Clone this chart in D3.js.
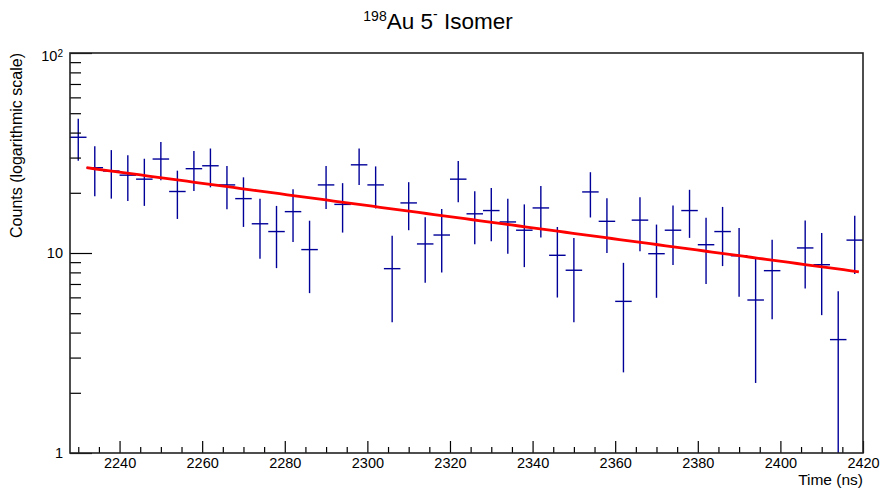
<!DOCTYPE html>
<html>
<head>
<meta charset="utf-8">
<script src="https://cdn.jsdelivr.net/npm/d3@7/dist/d3.min.js"></script>
<style>
  html, body { margin: 0; padding: 0; background: #fff; }
  svg { display: block; font-family: "Liberation Sans", Arial, Helvetica, sans-serif; }
</style>
</head>
<body>
<svg id="chart" width="880" height="488"></svg>
<script>
// Histogram binning (ns)
const binStart = 2228;
const binWidth = 4;

// Counts per bin (null = empty bin, not drawn on log scale)
const counts = [37.9, 26.7, 25.7, 24.5, 23.4, 29.5, 20.3, 26.4, 27.3, 21.9, 18.7, 14.0,
                12.8, 16.1, 10.4, 21.9, 17.5, 27.6, 21.9, 8.35, 17.8, 11.1, 12.3, 23.4,
                15.7, 16.3, 14.3, 13.0, 16.8, 9.74, 8.2, 20.2, 14.4, 5.73, 14.6, 9.92,
                13.0, 16.3, 11.0, 12.8, 9.69, 5.82, 8.16, null, 10.6, 8.74, 3.69, 11.6];

// Uncertainty on each bin
const errors = [9.0, 7.5, 7.0, 6.3, 6.2, 6.4, 5.5, 6.0, 6.0, 5.35, 5.2, 4.65,
                4.4, 4.75, 4.1, 5.3, 4.85, 5.7, 5.2, 3.85, 4.8, 4.0, 4.3, 5.45,
                4.65, 4.85, 4.4, 4.5, 4.85, 3.75, 3.7, 5.15, 4.4, 3.2, 4.4, 3.95,
                4.3, 4.4, 4.0, 4.2, 3.65, 3.58, 3.5, null, 3.95, 3.85, 2.75, 3.75];

// Exponential decay fit: N(t) = fitN0 * exp(-(t - fitStart) / fitTau)
const fitStart = 2232;
const fitEnd = 2419;
const fitN0 = 26.7;
const fitTau = 156;

// Axis ticks
const xMajorTicks = [2240, 2260, 2280, 2300, 2320, 2340, 2360, 2380, 2400, 2420];
const xMinorTicks = [2230, 2235, 2245, 2250, 2255, 2265, 2270, 2275, 2285, 2290, 2295,
                     2305, 2310, 2315, 2325, 2330, 2335, 2345, 2350, 2355, 2365, 2370,
                     2375, 2385, 2390, 2395, 2405, 2410, 2415];
const yMajorTicks = [1, 10, 100];
const yMinorTicks = [2, 3, 4, 5, 6, 7, 8, 9, 20, 30, 40, 50, 60, 70, 80, 90];

const frame = { left: 70, right: 863, top: 53, bottom: 453 };

const svg = d3.select("#chart");
svg.append("rect").attr("width", 880).attr("height", 488).attr("fill", "#fff");

const x = d3.scaleLinear().domain([binStart, binStart + binWidth * counts.length])
  .range([frame.left, frame.right]);
const y = d3.scaleLog().domain([1, 100]).range([frame.bottom, frame.top]);

svg.append("clipPath").attr("id", "plotClip")
  .append("rect")
  .attr("x", frame.left).attr("y", frame.top)
  .attr("width", frame.right - frame.left).attr("height", frame.bottom - frame.top);

// Data points with error bars
const bins = counts.map((c, i) => ({
  lo: binStart + i * binWidth,
  hi: binStart + (i + 1) * binWidth,
  mid: binStart + (i + 0.5) * binWidth,
  v: c,
  e: errors[i]
})).filter(d => d.v !== null);

const pts = svg.append("g").attr("clip-path", "url(#plotClip)")
  .attr("stroke", "#000099").attr("stroke-width", 1.4).attr("fill", "none");

pts.selectAll("line.h").data(bins).join("line").attr("class", "h")
  .attr("x1", d => x(d.lo)).attr("x2", d => x(d.hi))
  .attr("y1", d => y(d.v)).attr("y2", d => y(d.v));

pts.selectAll("line.v").data(bins).join("line").attr("class", "v")
  .attr("x1", d => x(d.mid)).attr("x2", d => x(d.mid))
  .attr("y1", d => y(d.v + d.e))
  .attr("y2", d => (d.v - d.e) > 0.5 ? y(d.v - d.e) : frame.bottom + 5);

// Fit curve
const fitPts = d3.range(0, 101).map(k => {
  const t = fitStart + (fitEnd - fitStart) * k / 100;
  return [t, fitN0 * Math.exp(-(t - fitStart) / fitTau)];
});
svg.append("path")
  .attr("clip-path", "url(#plotClip)")
  .attr("d", d3.line().x(d => x(d[0])).y(d => y(d[1]))(fitPts))
  .attr("fill", "none").attr("stroke", "#ff0000").attr("stroke-width", 2.8);

// X axis (ticks inward)
const xMajor = svg.append("g").attr("transform", `translate(0,${frame.bottom})`)
  .call(d3.axisBottom(x).tickValues(xMajorTicks).tickSize(-12).tickPadding(5)
    .tickFormat(d3.format("d")));
const xMinor = svg.append("g").attr("transform", `translate(0,${frame.bottom})`)
  .call(d3.axisBottom(x).tickValues(xMinorTicks).tickSize(-6).tickFormat(""));

// Y axis (ticks inward)
const yMajor = svg.append("g").attr("transform", `translate(${frame.left},0)`)
  .call(d3.axisLeft(y).tickValues(yMajorTicks).tickSize(-22).tickPadding(7)
    .tickFormat(d => d === 100 ? "" : String(d)));
const yMinor = svg.append("g").attr("transform", `translate(${frame.left},0)`)
  .call(d3.axisLeft(y).tickValues(yMinorTicks).tickSize(-11).tickFormat(""));

[xMajor, xMinor, yMajor, yMinor].forEach(g => {
  g.select(".domain").remove();
  g.selectAll(".tick line").attr("stroke", "#000").attr("stroke-width", 1.2);
  g.selectAll(".tick text").attr("fill", "#000").attr("font-size", 14.5)
    .attr("font-family", "Liberation Sans, Arial, sans-serif");
});

// 10^2 label with superscript exponent
const hundredLabel = yMajor.selectAll(".tick").filter(d => d === 100).select("text");
hundredLabel.text(null).attr("dy", "0.55em");
hundredLabel.append("tspan").text("10");
hundredLabel.append("tspan").attr("dy", "-0.45em").attr("font-size", 10).text("2");

// Frame
svg.append("rect")
  .attr("x", frame.left).attr("y", frame.top)
  .attr("width", frame.right - frame.left).attr("height", frame.bottom - frame.top)
  .attr("fill", "none").attr("stroke", "#222").attr("stroke-width", 1.6);

// Axis titles
svg.append("text")
  .attr("x", frame.right).attr("y", 485)
  .attr("text-anchor", "end").attr("font-size", 15.5).attr("fill", "#000")
  .text("Time (ns)");

svg.append("text")
  .attr("transform", `translate(22,${frame.top}) rotate(-90)`)
  .attr("text-anchor", "end").attr("font-size", 16).attr("fill", "#000")
  .text("Counts (logarithmic scale)");

// Title
const title = svg.append("text")
  .attr("x", 438).attr("y", 29)
  .attr("text-anchor", "middle").attr("font-size", 22.5).attr("fill", "#000");
title.append("tspan").attr("font-size", 14).attr("dy", "-8").text("198");
title.append("tspan").attr("dy", "8").text("Au 5");
title.append("tspan").attr("font-size", 14).attr("dy", "-10").text("-");
title.append("tspan").attr("dy", "10").text(" Isomer");
</script>
</body>
</html>
